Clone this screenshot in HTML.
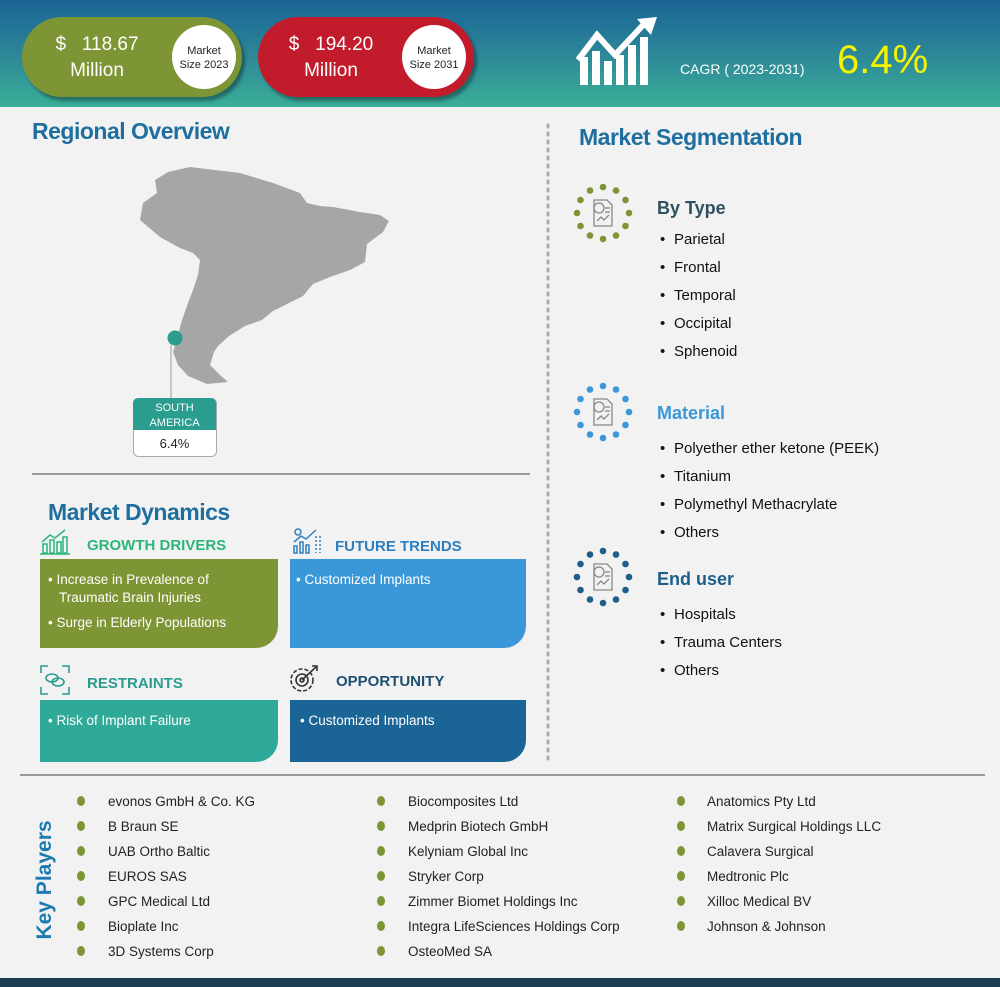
<!DOCTYPE html>
<html><head><meta charset="utf-8"><style>
*{margin:0;padding:0;box-sizing:border-box}
body{width:1000px;height:987px;background:#f2f2f2;position:relative;overflow:hidden;font-family:"Liberation Sans",sans-serif}
.a{position:absolute;white-space:nowrap}
.n{font-family:"Liberation Sans Narrow","Liberation Sans",sans-serif}
.ttl{font-family:"Liberation Sans Narrow","Liberation Sans",sans-serif;font-weight:bold;font-size:23px;color:#1e6f9f;letter-spacing:-0.5px}
.pill{position:absolute;top:17px;height:80px;border-radius:40px;box-shadow:3px 4px 3px rgba(0,0,0,.35)}
.circ{position:absolute;top:8px;width:64px;height:64px;border-radius:50%;background:#fff;text-align:center;font-size:11px;font-family:"Liberation Sans Narrow","Liberation Sans",sans-serif;color:#222;padding-top:19px;line-height:14px}
.pt{position:absolute;color:#fff;font-size:19px;text-align:center;line-height:26px;font-family:"Liberation Sans Narrow","Liberation Sans",sans-serif}
.box{position:absolute;color:#fff;font-size:13.5px;border-bottom-right-radius:22px;padding:12px 0 0 8px;line-height:18px}
.hd{position:absolute;font-family:"Liberation Sans Narrow","Liberation Sans",sans-serif;font-weight:bold;font-size:15px}
.li{position:absolute;font-size:15px;color:#111;left:660px}
.li:before{content:"•";position:absolute;left:0}
.li span{position:absolute;left:14px;white-space:nowrap}
.kp{position:absolute;font-size:13.5px;color:#222;font-family:"Liberation Sans Narrow","Liberation Sans",sans-serif;white-space:nowrap}
.kd{position:absolute;width:8px;height:10px;border-radius:50%;background:#7d9535}
</style></head><body>
<div class="a" style="left:0;top:0;width:1000px;height:107px;background:linear-gradient(#1a6496,#2e8a98 55%,#3aae98)"></div>
<div class="pill" style="left:22px;width:220px;background:#7d9535">
 <div class="pt" style="left:20px;top:15px;width:110px">$&nbsp;&nbsp; 118.67<br>Million</div>
 <div class="circ" style="left:150px">Market<br>Size 2023</div></div>
<div class="pill" style="left:258px;width:216px;background:#c21c2c">
 <div class="pt" style="left:18px;top:15px;width:110px">$&nbsp;&nbsp; 194.20<br>Million</div>
 <div class="circ" style="left:144px">Market<br>Size 2031</div></div>
<svg class="a" style="left:575px;top:15px" width="85" height="72" viewBox="0 0 85 72">
 <rect x="5" y="42" width="8" height="28" fill="#fff"/><rect x="17" y="36" width="8" height="34" fill="#fff"/><rect x="29" y="46" width="8" height="24" fill="#fff"/><rect x="41" y="40" width="8" height="30" fill="#fff"/><rect x="53" y="30" width="8" height="40" fill="#fff"/><rect x="65" y="22" width="8" height="48" fill="#fff"/>
 <polyline points="3,45 22,20 40,40 70,8" fill="none" stroke="#fff" stroke-width="6"/><polygon points="62,4 82,2 76,20" fill="#fff"/></svg>
<div class="a n" style="left:680px;top:61px;color:#fff;font-size:14px">CAGR ( 2023-2031)</div>
<div class="a n" style="left:837px;top:38px;color:#f4f400;font-size:40px">6.4%</div>

<div class="a ttl" style="left:32px;top:118px">Regional Overview</div>
<svg class="a" style="left:0;top:0" width="1000" height="987">
 <polygon fill="#a5a7a6" points="155,180 168,172 190,167 215,170 240,173 273,183 300,193 307,203 320,206 333,207 360,212 380,215 389,221 383,232 367,244 365,262 350,270 330,277 313,284 303,296 285,305 273,311 262,320 245,326 229,336 218,346 214,352 210,365 220,375 228,382 207,384 188,376 178,365 173,352 178,335 182,320 188,303 193,290 198,275 200,260 193,253 180,248 160,237 140,220 143,203 157,193"/>
 <line x1="171" y1="345" x2="171" y2="398" stroke="#999" stroke-width="1"/>
 <circle cx="175" cy="338" r="7.5" fill="#2a9d8f"/>
 <rect x="133.5" y="398.5" width="83" height="58" rx="5" fill="#fff" stroke="#aaa"/>
 <path d="M133,403 a5,5 0 0 1 5,-5 h73 a5,5 0 0 1 5,5 v27 h-83z" fill="#2a9d8f"/>
 <line x1="32" y1="474" x2="530" y2="474" stroke="#999" stroke-width="2"/>
 <line x1="548" y1="125" x2="548" y2="762" stroke="#aaa" stroke-width="3" stroke-dasharray="2 6" stroke-linecap="round"/>
 <line x1="20" y1="775" x2="985" y2="775" stroke="#999" stroke-width="2"/>
 <defs><g id="ring"><circle cx="0" cy="-26" r="3.3"/><circle cx="13" cy="-22.5" r="3.3"/><circle cx="22.5" cy="-13" r="3.3"/><circle cx="26" cy="0" r="3.3"/><circle cx="22.5" cy="13" r="3.3"/><circle cx="13" cy="22.5" r="3.3"/><circle cx="0" cy="26" r="3.3"/><circle cx="-13" cy="22.5" r="3.3"/><circle cx="-22.5" cy="13" r="3.3"/><circle cx="-26" cy="0" r="3.3"/><circle cx="-22.5" cy="-13" r="3.3"/><circle cx="-13" cy="-22.5" r="3.3"/></g>
 <g id="doc" fill="none" stroke="#888" stroke-width="1.3"><path d="M-9,-13 h13 l5,5 v21 h-18z"/><circle cx="-4" cy="-5" r="5"/><path d="M-6,8 l4,-4 3,3 5,-5"/><line x1="2" y1="-5" x2="7" y2="-5"/><line x1="2" y1="-1" x2="7" y2="-1"/></g></defs>
 <use href="#ring" x="603" y="213" fill="#7d9535"/><use href="#doc" x="603" y="213"/>
 <use href="#ring" x="603" y="412" fill="#3a98d8"/><use href="#doc" x="603" y="412"/>
 <use href="#ring" x="603" y="577" fill="#1e5f8a"/><use href="#doc" x="603" y="577"/>
 <rect x="0" y="978" width="1000" height="9" fill="#1a3d52"/>
</svg>
<div class="a n" style="left:133px;top:401px;width:83px;text-align:center;color:#fff;font-size:11px;line-height:15px">SOUTH<br>AMERICA</div>
<div class="a" style="left:133px;top:436px;width:83px;text-align:center;color:#222;font-size:13px">6.4%</div>

<div class="a ttl" style="left:579px;top:124px">Market Segmentation</div>
<div class="a" style="left:657px;top:198px;font-size:18px;font-weight:bold;color:#2e5060">By Type</div>
<div class="li" style="top:231px"><span>Parietal</span></div>
<div class="li" style="top:259px"><span>Frontal</span></div>
<div class="li" style="top:287px"><span>Temporal</span></div>
<div class="li" style="top:315px"><span>Occipital</span></div>
<div class="li" style="top:343px"><span>Sphenoid</span></div>
<div class="a" style="left:657px;top:403px;font-size:18px;font-weight:bold;color:#3a98d8">Material</div>
<div class="li" style="top:440px"><span>Polyether ether ketone (PEEK)</span></div>
<div class="li" style="top:468px"><span>Titanium</span></div>
<div class="li" style="top:496px"><span>Polymethyl Methacrylate</span></div>
<div class="li" style="top:524px"><span>Others</span></div>
<div class="a" style="left:657px;top:569px;font-size:18px;font-weight:bold;color:#1e5f8a">End user</div>
<div class="li" style="top:606px"><span>Hospitals</span></div>
<div class="li" style="top:634px"><span>Trauma Centers</span></div>
<div class="li" style="top:662px"><span>Others</span></div>

<div class="a ttl" style="left:48px;top:499px">Market Dynamics</div>
<div class="hd" style="left:87px;top:537px;color:#2bb57a">GROWTH DRIVERS</div>
<div class="hd" style="left:335px;top:538px;color:#2e7fc0">FUTURE TRENDS</div>
<div class="hd" style="left:87px;top:675px;color:#2a9d8f">RESTRAINTS</div>
<div class="hd" style="left:336px;top:673px;color:#1e4f6f">OPPORTUNITY</div>
<svg class="a" style="left:40px;top:528px" width="30" height="28"><g fill="none" stroke="#2bb57a" stroke-width="1.5"><rect x="3" y="16" width="4" height="9"/><rect x="10" y="12" width="4" height="13"/><rect x="17" y="14" width="4" height="11"/><rect x="23" y="9" width="4" height="16"/><path d="M2,14 10,7 15,10 25,2"/><line x1="0" y1="26" x2="30" y2="26"/></g></svg>
<svg class="a" style="left:292px;top:528px" width="30" height="28"><g fill="none" stroke="#2e7fc0" stroke-width="1.5"><rect x="2" y="18" width="3" height="7"/><rect x="8" y="14" width="3" height="11"/><rect x="14" y="17" width="3" height="8"/><path d="M2,14 9,8 14,11 24,2"/><circle cx="6" cy="4" r="3"/><line x1="24" y1="8" x2="24" y2="25" stroke-dasharray="2 2"/><line x1="28" y1="8" x2="28" y2="25" stroke-dasharray="2 2"/></g></svg>
<svg class="a" style="left:40px;top:665px" width="30" height="30"><g fill="none" stroke="#2a9d8f" stroke-width="1.6"><path d="M1,8 V1 H8 M22,1 H29 V8 M29,22 V29 H22 M8,29 H1 V22"/><ellipse cx="12" cy="13" rx="6" ry="4"/><ellipse cx="18" cy="17" rx="6" ry="4"/></g></svg>
<svg class="a" style="left:288px;top:664px" width="34" height="30"><g fill="none" stroke="#333" stroke-width="1.6"><circle cx="14" cy="16" r="11" stroke-dasharray="4 2"/><circle cx="14" cy="16" r="6"/><circle cx="14" cy="16" r="2"/><path d="M14,16 28,3 M24,2 29,2 29,7"/></g></svg>
<div class="box" style="left:40px;top:559px;width:238px;height:89px;background:#7d9535">• Increase in Prevalence of<br>&nbsp;&nbsp; Traumatic Brain Injuries<div style="margin-top:7px">• Surge in Elderly Populations</div></div>
<div class="box" style="left:290px;top:559px;width:236px;height:89px;background:#3a98d8;padding-left:6px">• Customized Implants</div>
<div class="box" style="left:40px;top:700px;width:238px;height:62px;background:#2fa998;padding-top:12px">• Risk of Implant Failure</div>
<div class="box" style="left:290px;top:700px;width:236px;height:62px;background:#1a6496;padding-left:10px">• Customized Implants</div>

<div class="a" style="left:45px;top:880px;transform:translate(-50%,-50%) rotate(-90deg);font-size:21px;font-weight:bold;color:#1e7bb0">Key Players</div>
<div class="kd" style="left:77px;top:796px"></div><div class="kp" style="left:108px;top:794px">evonos GmbH &amp; Co. KG</div>
<div class="kd" style="left:77px;top:821px"></div><div class="kp" style="left:108px;top:819px">B Braun SE</div>
<div class="kd" style="left:77px;top:846px"></div><div class="kp" style="left:108px;top:844px">UAB Ortho Baltic</div>
<div class="kd" style="left:77px;top:871px"></div><div class="kp" style="left:108px;top:869px">EUROS SAS</div>
<div class="kd" style="left:77px;top:896px"></div><div class="kp" style="left:108px;top:894px">GPC Medical Ltd</div>
<div class="kd" style="left:77px;top:921px"></div><div class="kp" style="left:108px;top:919px">Bioplate Inc</div>
<div class="kd" style="left:77px;top:946px"></div><div class="kp" style="left:108px;top:944px">3D Systems Corp</div>
<div class="kd" style="left:377px;top:796px"></div><div class="kp" style="left:408px;top:794px">Biocomposites Ltd</div>
<div class="kd" style="left:377px;top:821px"></div><div class="kp" style="left:408px;top:819px">Medprin Biotech GmbH</div>
<div class="kd" style="left:377px;top:846px"></div><div class="kp" style="left:408px;top:844px">Kelyniam Global Inc</div>
<div class="kd" style="left:377px;top:871px"></div><div class="kp" style="left:408px;top:869px">Stryker Corp</div>
<div class="kd" style="left:377px;top:896px"></div><div class="kp" style="left:408px;top:894px">Zimmer Biomet Holdings Inc</div>
<div class="kd" style="left:377px;top:921px"></div><div class="kp" style="left:408px;top:919px">Integra LifeSciences Holdings Corp</div>
<div class="kd" style="left:377px;top:946px"></div><div class="kp" style="left:408px;top:944px">OsteoMed SA</div>
<div class="kd" style="left:677px;top:796px"></div><div class="kp" style="left:707px;top:794px">Anatomics Pty Ltd</div>
<div class="kd" style="left:677px;top:821px"></div><div class="kp" style="left:707px;top:819px">Matrix Surgical Holdings LLC</div>
<div class="kd" style="left:677px;top:846px"></div><div class="kp" style="left:707px;top:844px">Calavera Surgical</div>
<div class="kd" style="left:677px;top:871px"></div><div class="kp" style="left:707px;top:869px">Medtronic Plc</div>
<div class="kd" style="left:677px;top:896px"></div><div class="kp" style="left:707px;top:894px">Xilloc Medical BV</div>
<div class="kd" style="left:677px;top:921px"></div><div class="kp" style="left:707px;top:919px">Johnson &amp; Johnson</div>
</body></html>
